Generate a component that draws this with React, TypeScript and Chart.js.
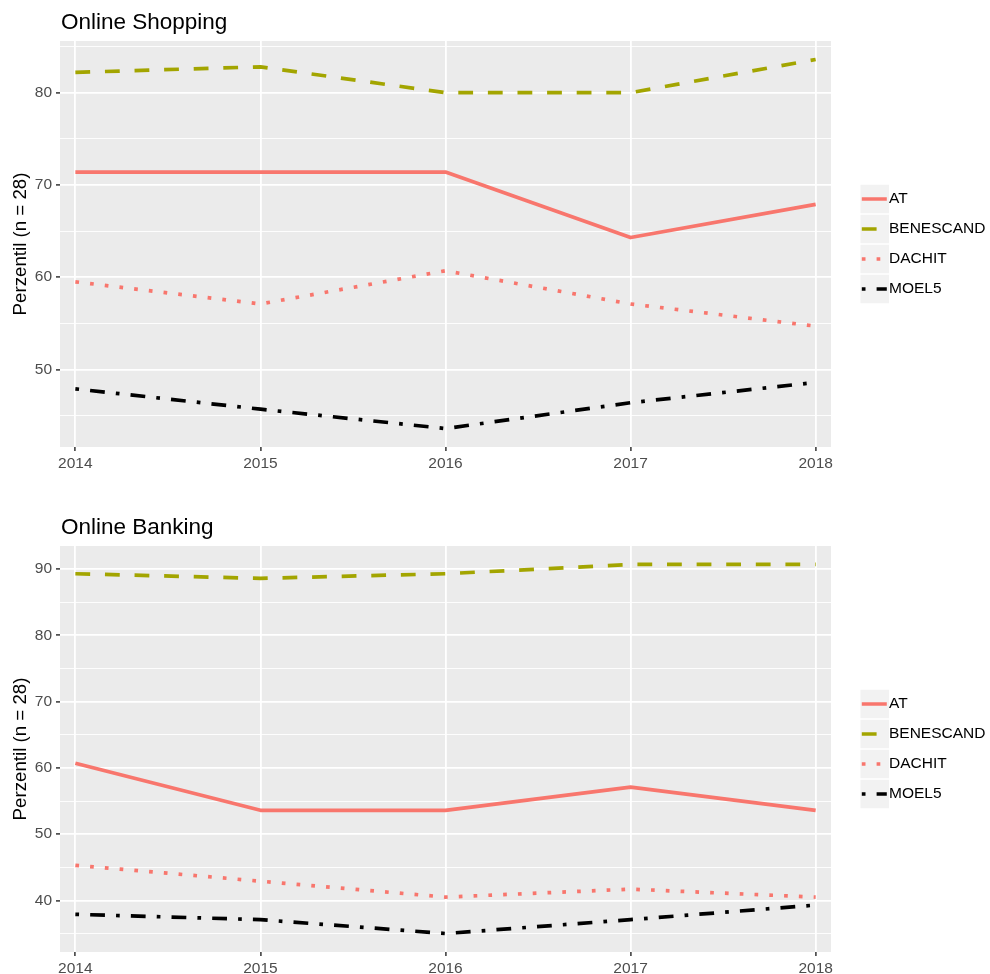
import React, { useEffect, useRef } from "react";
import { Chart, registerables } from "chart.js";

Chart.register(...registerables);

// ---------- data ----------
const years = [2014, 2015, 2016, 2017, 2018];
const seriesNames = ["AT", "BENESCAND", "DACHIT", "MOEL5"];

const shoppingAT = [71.4, 71.4, 71.4, 64.3, 67.9];
const shoppingBENESCAND = [82.2, 82.8, 80.0, 80.0, 83.6];
const shoppingDACHIT = [59.5, 57.1, 60.7, 57.1, 54.7];
const shoppingMOEL5 = [47.9, 45.7, 43.6, 46.4, 48.6];

const bankingAT = [60.7, 53.6, 53.6, 57.1, 53.6];
const bankingBENESCAND = [89.3, 88.6, 89.3, 90.7, 90.7];
const bankingDACHIT = [45.3, 42.9, 40.5, 41.7, 40.5];
const bankingMOEL5 = [37.9, 37.1, 35.0, 37.1, 39.3];

const panelTitles = ["Online Shopping", "Online Banking"];
const yAxisTitle = "Perzentil (n = 28)";

// ---------- styles ----------
const FONT = '"Liberation Sans", Arial, Helvetica, sans-serif';
const LW = 3.7;
const seriesColors = ["#F8766D", "#A3A500", "#F8766D", "#000000"];
const seriesDash = [
  [],
  [4 * LW, 4 * LW],
  [LW, 3 * LW],
  [LW, 3 * LW, 4 * LW, 3 * LW],
];

const X_PAD = 0.083;
const CANVAS_W = 990;
const CANVAS_H = 487;

function yRange(series: number[][]) {
  const all = series.flat();
  const lo = Math.min(...all);
  const hi = Math.max(...all);
  const pad = (hi - lo) * 0.05;
  return [lo - pad, hi + pad];
}

function ggPlugin(title: string) {
  return {
    id: "ggDecor",
    beforeDraw(chart: any) {
      const { ctx, chartArea } = chart;
      ctx.save();
      ctx.fillStyle = "#EBEBEB";
      ctx.fillRect(chartArea.left, chartArea.top, chartArea.right - chartArea.left, chartArea.bottom - chartArea.top);
      ctx.restore();
    },
    afterDraw(chart: any) {
      const { ctx, chartArea } = chart;
      ctx.save();
      // title
      ctx.fillStyle = "#000000";
      ctx.font = `22.5px ${FONT}`;
      ctx.textAlign = "left";
      ctx.textBaseline = "alphabetic";
      ctx.fillText(title, chartArea.left + 1, chartArea.top - 12);
      // y title
      const cy = (chartArea.top + chartArea.bottom) / 2;
      ctx.save();
      ctx.translate(25.5, cy);
      ctx.rotate(-Math.PI / 2);
      ctx.font = `18.7px ${FONT}`;
      ctx.textAlign = "center";
      ctx.fillText(yAxisTitle, 0, 0);
      ctx.restore();
      // legend
      const pitch = 30;
      const box = 28.5;
      const boxX = 860.5;
      for (let i = 0; i < seriesNames.length; i++) {
        const iy = cy + (i - 1.5) * pitch;
        ctx.fillStyle = "#F2F2F2";
        ctx.fillRect(boxX, iy - box / 2, box, box);
        ctx.save();
        ctx.beginPath();
        ctx.rect(boxX, iy - box / 2, box, box);
        ctx.clip();
        ctx.strokeStyle = seriesColors[i];
        ctx.lineWidth = LW;
        ctx.lineCap = "butt";
        ctx.setLineDash(seriesDash[i]);
        ctx.beginPath();
        ctx.moveTo(boxX + 1.3, iy);
        ctx.lineTo(boxX + 26.3, iy);
        ctx.stroke();
        ctx.restore();
        ctx.fillStyle = "#000000";
        ctx.font = `15.5px ${FONT}`;
        ctx.textAlign = "left";
        ctx.textBaseline = "middle";
        ctx.fillText(seriesNames[i], 889, iy);
      }
      ctx.restore();
    },
  };
}

function makeChart(canvas: HTMLCanvasElement, title: string, series: number[][], top: number, bottomPad: number) {
  const [ymin, ymax] = yRange(series);
  const datasets = series.map((vals, i) => ({
    label: seriesNames[i],
    data: years.map((yr, j) => ({ x: yr, y: vals[j] })),
    borderColor: seriesColors[i],
    backgroundColor: seriesColors[i],
    borderWidth: LW,
    borderDash: seriesDash[i],
    borderCapStyle: "butt",
    borderJoinStyle: "round",
    pointRadius: 0,
    pointHoverRadius: 0,
    fill: false,
    tension: 0,
  }));
  const isMajor = (v: number) => Math.abs(v % 10) < 1e-6;
  return new Chart(canvas, {
    type: "line",
    data: { datasets } as any,
    plugins: [ggPlugin(title)],
    options: {
      responsive: false,
      maintainAspectRatio: false,
      devicePixelRatio: 1,
      animation: false,
      events: [],
      layout: { padding: { left: 0, right: 159, top, bottom: bottomPad } },
      plugins: { legend: { display: false }, tooltip: { enabled: false }, title: { display: false } },
      scales: {
        x: {
          type: "linear",
          min: years[0] - X_PAD,
          max: years[years.length - 1] + X_PAD,
          afterBuildTicks: (scale: any) => {
            scale.ticks = years.map((v) => ({ value: v }));
          },
          afterFit: (scale: any) => {
            scale.height = 22;
          },
          border: { display: false },
          grid: {
            color: "#FFFFFF",
            lineWidth: 1.8,
            tickColor: "#333333",
            tickWidth: 1.5,
            tickLength: 4,
            drawTicks: true,
          },
          ticks: {
            autoSkip: false,
            maxRotation: 0,
            padding: 3,
            color: "#4D4D4D",
            font: { family: FONT, size: 15.5 },
            callback: (v: any) => String(v),
          },
        },
        y: {
          type: "linear",
          min: ymin,
          max: ymax,
          afterBuildTicks: (scale: any) => {
            const t: any[] = [];
            for (let v = Math.ceil(ymin / 5) * 5; v <= ymax; v += 5) t.push({ value: v });
            scale.ticks = t;
          },
          afterFit: (scale: any) => {
            scale.width = 60;
          },
          border: { display: false },
          grid: {
            color: "#FFFFFF",
            lineWidth: (c: any) => (c.tick && isMajor(c.tick.value) ? 1.8 : 0.9),
            tickColor: (c: any) => (c.tick && isMajor(c.tick.value) ? "#333333" : "rgba(0,0,0,0)"),
            tickWidth: 1.5,
            tickLength: 4,
          },
          ticks: {
            autoSkip: false,
            padding: 4,
            color: "#4D4D4D",
            font: { family: FONT, size: 15.5 },
            callback: (v: any) => (isMajor(Number(v)) ? String(v) : ""),
          },
        },
      },
    } as any,
  });
}

export default function App() {
  const topRef = useRef<HTMLCanvasElement>(null);
  const botRef = useRef<HTMLCanvasElement>(null);
  useEffect(() => {
    const c1 = makeChart(
      topRef.current!,
      panelTitles[0],
      [shoppingAT, shoppingBENESCAND, shoppingDACHIT, shoppingMOEL5],
      41,
      CANVAS_H - 447 - 22
    );
    const c2 = makeChart(
      botRef.current!,
      panelTitles[1],
      [bankingAT, bankingBENESCAND, bankingDACHIT, bankingMOEL5],
      59,
      CANVAS_H - 465 - 22
    );
    return () => {
      c1.destroy();
      c2.destroy();
    };
  }, []);
  return (
    <div style={{ position: "absolute", left: 0, top: 0, width: CANVAS_W, height: 974, background: "#FFFFFF" }}>
      <canvas ref={topRef} width={CANVAS_W} height={CANVAS_H} style={{ display: "block", width: CANVAS_W, height: CANVAS_H }} />
      <canvas ref={botRef} width={CANVAS_W} height={CANVAS_H} style={{ display: "block", width: CANVAS_W, height: CANVAS_H }} />
    </div>
  );
}
